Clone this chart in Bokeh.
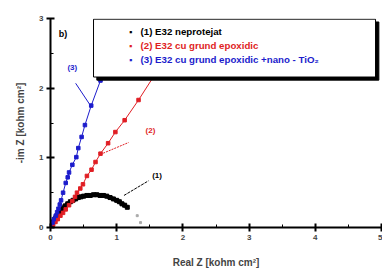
from bokeh.plotting import figure
from bokeh.models import Label, BoxAnnotation, SingleIntervalTicker, Range1d
from bokeh.embed import file_html
from bokeh.resources import INLINE

# ---- data ----
black_x = [0.0, 0.02, 0.04, 0.06, 0.08, 0.10, 0.13, 0.16, 0.19, 0.22, 0.26, 0.30, 0.34, 0.38, 0.42, 0.46,
           0.50, 0.55, 0.60, 0.65, 0.70, 0.75, 0.80, 0.85, 0.90, 0.95, 1.00, 1.04, 1.08, 1.12, 1.16]
black_y = [0.0, 0.04, 0.08, 0.11, 0.14, 0.17, 0.21, 0.25, 0.28, 0.31, 0.34, 0.37, 0.39, 0.41, 0.43, 0.44,
           0.45, 0.46, 0.46, 0.47, 0.47, 0.46, 0.46, 0.45, 0.43, 0.41, 0.39, 0.37, 0.34, 0.32, 0.29]
tail_x = [1.31, 1.36]
tail_y = [0.17, 0.07]

red_x = [0.0, 0.04, 0.075, 0.11, 0.15, 0.19, 0.23, 0.28, 0.33, 0.37, 0.40, 0.45, 0.49, 0.55, 0.62,
         0.68, 0.755, 0.87, 0.98, 1.12, 1.33, 1.58]
red_y = [0.0, 0.04, 0.08, 0.12, 0.17, 0.21, 0.26, 0.32, 0.38, 0.44, 0.50, 0.56, 0.62, 0.74, 0.83,
         0.94, 1.06, 1.21, 1.37, 1.54, 1.83, 2.20]

blue_x = [0.0, 0.03, 0.05, 0.08, 0.10, 0.12, 0.14, 0.16, 0.19, 0.23, 0.26, 0.28, 0.33, 0.39, 0.42,
          0.47, 0.52, 0.615, 0.755, 0.80]
blue_y = [0.0, 0.07, 0.12, 0.17, 0.22, 0.27, 0.33, 0.39, 0.50, 0.64, 0.72, 0.79, 0.90, 1.01, 1.14,
          1.30, 1.47, 1.75, 2.11, 2.25]

series_labels = ["(1) E32 neprotejat", "(2) E32 cu grund epoxidic",
                 "(3) E32 cu grund epoxidic +nano - TiO\u2082"]

BLACK = "#000000"
RED = "#e01e24"
BLUE = "#1c1ccc"
FONT = "Liberation Sans"

p = figure(width=382, height=273, output_backend="svg", toolbar_location=None,
           x_range=Range1d(0, 5), y_range=Range1d(0, 3),
           min_border_left=50, min_border_right=1, min_border_top=18, min_border_bottom=46)
p.outline_line_color = None
p.xgrid.visible = False
p.ygrid.visible = False

# series
p.line(black_x, black_y, line_color=BLACK, line_width=4)
p.scatter(black_x, black_y, marker="square", size=4, color=BLACK)
p.scatter(tail_x, tail_y, marker="square", size=2, color="#aaaaaa")
p.line(red_x, red_y, line_color=RED, line_width=1)
p.scatter(red_x, red_y, marker="square", size=3.5, color=RED)
p.line(blue_x, blue_y, line_color=BLUE, line_width=1)
p.scatter(blue_x, blue_y, marker="square", size=3.5, color=BLUE)

# callout lines
p.line([1.11, 1.48], [0.46, 0.67], line_color=BLACK, line_width=1, line_dash="3 1")
p.line([0.755, 1.18], [1.05, 1.22], line_color=RED, line_width=1, line_dash="2 1")
p.line([0.38, 0.59], [2.07, 1.77], line_color=BLUE, line_width=1)

def lab(x, y, t, color, size="8px", bold=True, align="center"):
    p.add_layout(Label(x=x, y=y, text=t, text_color=color, text_font=FONT, text_font_size=size,
                       text_font_style="bold" if bold else "normal", text_align=align,
                       text_baseline="middle"))

lab(1.61, 0.74, "(1)", BLACK)
lab(1.51, 1.39, "(2)", RED)
lab(0.33, 2.29, "(3)", BLUE)
lab(0.19, 2.78, "b)", BLACK, size="9px", bold=True)

# legend box with shadow
p.add_layout(BoxAnnotation(left=0.70, right=4.96, top=2.95, bottom=2.115,
                           fill_color=BLACK, fill_alpha=1, line_color=BLACK, line_alpha=1))
p.add_layout(BoxAnnotation(left=0.65, right=4.91, top=2.99, bottom=2.16,
                           fill_color="white", fill_alpha=1, line_color=BLACK, line_width=1, line_alpha=1))
rows_y = [2.81, 2.61, 2.41]
colors = [BLACK, RED, BLUE]
for t, c, yy in zip(series_labels, colors, rows_y):
    lab(1.21, yy, "\u25aa", c, size="9px", bold=False)
    lab(1.36, yy, t, c, size="9.7px", bold=True, align="left")

# axes
for ax in (p.xaxis, p.yaxis):
    ax.axis_line_width = 2
    ax.major_tick_line_width = 2
    ax.minor_tick_line_width = 1
    ax.major_tick_in = 4
    ax.major_tick_out = 4
    ax.minor_tick_in = 3
    ax.minor_tick_out = 0
    ax.major_label_text_font = FONT
    ax.major_label_text_font_size = "8px"
    ax.major_label_text_font_style = "bold"
    ax.axis_label_text_font = FONT
    ax.axis_label_text_font_size = "10px"
    ax.axis_label_text_font_style = "bold"

p.xaxis.ticker = SingleIntervalTicker(interval=1, num_minor_ticks=2)
p.yaxis.ticker = SingleIntervalTicker(interval=1, num_minor_ticks=2)
p.xaxis.major_label_standoff = 3
p.yaxis.major_label_standoff = 3
p.xaxis.axis_label = "Real Z [kohm cm\u00b2]"
p.yaxis.axis_label = "-im Z [kohm cm\u00b2]"
p.xaxis.axis_label_standoff = 14
p.yaxis.axis_label_standoff = 10

open("out.html", "w").write(file_html(p, INLINE))
